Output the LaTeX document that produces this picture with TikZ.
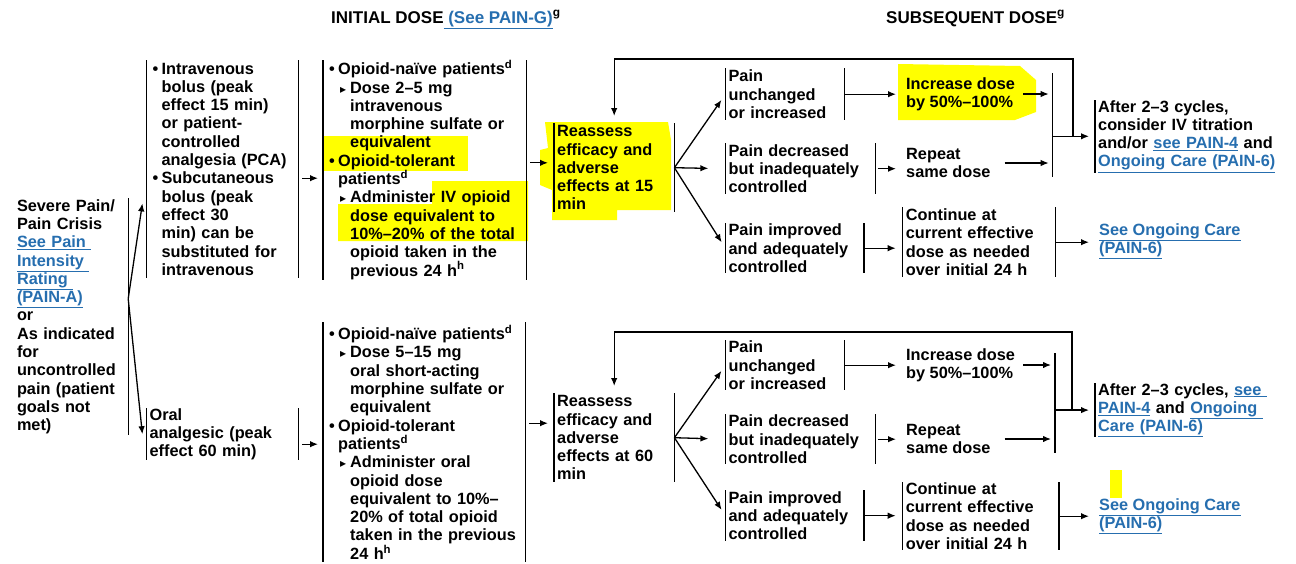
\documentclass[tikz,border=0pt]{standalone}
\usepackage{fontspec}
\setmainfont{Liberation Sans}
\newfontfamily\dejavu{DejaVu Sans}
\usetikzlibrary{arrows.meta}

\definecolor{linkblue}{RGB}{38,110,175}
\definecolor{marker}{RGB}{255,255,0}

\newcommand{\lnk}[1]{\textcolor{linkblue}{\underline{#1}}}
\newcommand{\bl}{\hspace*{3pt}\makebox[9pt][l]{•}}
\newcommand{\hi}{\hspace*{12pt}}
\newcommand{\tr}{\hspace*{14pt}\makebox[10pt][l]{\dejavu\fontsize{12}{12}\selectfont ▸}}
\newcommand{\si}{\hspace*{24pt}}

\tikzset{
    txt/.style={font=\bfseries\fontsize{16.3}{18.3}\selectfont, inner ysep=0pt, inner xsep=3pt},
    box/.style={txt, anchor=north west, align=left},
    bar/.style={line width=1.3pt},
    arr/.style={-{Latex[length=8pt,width=6.5pt]}, line width=1.3pt}
}

\begin{document}
\begin{tikzpicture}[x=1pt, y=-1pt]
            \useasboundingbox (0,0) rectangle (1296,563);
            % highlighting
            \begin{scope}
                \fill[marker] (323,136) rectangle (468,171);
                \fill[marker] (432,181) -- (528,181) -- (528,241) -- (338,241) -- (338,204) -- (432,204) -- cycle;
                \fill[marker] (545,122) -- (668,122) -- (671,140) -- (671,210) -- (617,210) -- (617,220) -- (552,220) -- (552,190) -- (540,185) -- (540,150) -- (548,148) -- cycle;
                \fill[marker] (898,64) -- (1020,66) -- (1036,80) -- (1036,112) -- (1015,120) -- (898,120) -- cycle;
                \fill[marker] (1110,470) rectangle (1122,498);
            \end{scope}
            % headings
            \node[txt, anchor=base west, font=\bfseries\fontsize{17}{20}\selectfont] (hdinit) at (328,23) {INITIAL DOSE\lnk{ (See PAIN-G)}\textsuperscript{g}};
            \node[txt, anchor=base west, font=\bfseries\fontsize{17}{20}\selectfont] (hdsub) at (883,23) {SUBSEQUENT DOSE\textsuperscript{g}};
            % left column
            \node[box, text width=108pt, minimum height=237pt] (severe) at (13.8,198) {Severe Pain/\\Pain Crisis\\\lnk{See Pain }\\\lnk{Intensity }\\\lnk{Rating }\\\lnk{(PAIN-A)}\\or\\As indicated\\for\\uncontrolled\\pain (patient\\goals not\\met)};
            \node[box, text width=145.6pt, minimum height=218pt] (iv) at (146.4,60) {\bl Intravenous\\\hi bolus (peak\\\hi effect 15 min)\\\hi or patient-\\\hi controlled\\\hi analgesia (PCA)\\\bl Subcutaneous\\\hi bolus (peak\\\hi effect 30\\\hi min) can be\\\hi substituted for\\\hi intravenous};
            \node[box, text width=145.6pt, minimum height=52pt] (oral) at (146.4,408) {Oral\\analgesic (peak\\effect 60 min)};
            \node[box, text width=197pt, minimum height=218pt] (ivdose) at (323,60) {\bl Opioid-naïve patients\textsuperscript{d}\\\tr Dose 2–5 mg\\\si intravenous\\\si morphine sulfate or\\\si equivalent\\\bl Opioid-tolerant\\\hi patients\textsuperscript{d}\\\tr Administer IV opioid\\\si dose equivalent to\\\si 10\%–20\% of the total\\\si opioid taken in the\\\si previous 24 h\textsuperscript{h}};
            \node[box, text width=196pt, minimum height=240pt] (ovdose) at (323,322) {\bl Opioid-naïve patients\textsuperscript{d}\\\tr Dose 5–15 mg\\\si oral short-acting\\\si morphine sulfate or\\\si equivalent\\\bl Opioid-tolerant\\\hi patients\textsuperscript{d}\\\tr Administer oral\\\si opioid dose\\\si equivalent to 10\%–\\\si 20\% of total opioid\\\si taken in the previous\\\si 24 h\textsuperscript{h}};
            % subsequent dose, upper
            \node[box, text width=114pt, minimum height=89pt] (reaA) at (554,123) {Reassess\\efficacy and\\adverse\\effects at 15\\min};
            \node[box, text width=112.6pt, minimum height=52pt] (upA) at (725.4,68) {Pain\\unchanged\\or increased};
            \node[box, text width=144pt, minimum height=51pt] (decA) at (725.4,143) {Pain decreased\\but inadequately\\controlled};
            \node[box, text width=132.3pt, minimum height=50pt] (impA) at (725.4,223) {Pain improved\\and adequately\\controlled};
            \node[txt, anchor=west, align=left] (incA) at (903,94) {Increase dose\\by 50\%–100\%};
            \node[txt, anchor=west, align=left] (repA) at (903,163) {Repeat\\same dose};
            \node[box, text width=146.3pt, minimum height=70pt] (conA) at (902.7,207) {Continue at\\current effective\\dose as needed\\over initial 24 h};
            \node[box, text width=190pt, minimum height=72pt] (aftA) at (1095,100) {After 2–3 cycles,\\consider IV titration\\and/or \lnk{see PAIN-4} and\\\lnk{Ongoing Care (PAIN-6)}};
            \node[txt, anchor=west, align=left] (ongA) at (1096,241) {\lnk{See Ongoing Care}\\\lnk{(PAIN-6)}};
            % subsequent dose, lower
            \node[box, text width=114pt, minimum height=89pt] (reaB) at (554,393) {Reassess\\efficacy and\\adverse\\effects at 60\\min};
            \node[box, text width=112.6pt, minimum height=50pt] (upB) at (725.4,340) {Pain\\unchanged\\or increased};
            \node[box, text width=144pt, minimum height=50pt] (decB) at (725.4,414) {Pain decreased\\but inadequately\\controlled};
            \node[box, text width=132.3pt, minimum height=51pt] (impB) at (725.4,490) {Pain improved\\and adequately\\controlled};
            \node[txt, anchor=west, align=left] (incB) at (903,365) {Increase dose\\by 50\%–100\%};
            \node[txt, anchor=west, align=left] (repB) at (903,439) {Repeat\\same dose};
            \node[box, text width=149.9pt, minimum height=68pt] (conB) at (902.7,482) {Continue at\\current effective\\dose as needed\\over initial 24 h};
            \node[box, text width=190pt, minimum height=50pt] (aftB) at (1095,383) {After 2–3 cycles, \lnk{see }\\\lnk{PAIN-4} and \lnk{Ongoing }\\\lnk{Care (PAIN-6)}};
            \node[txt, anchor=west, align=left] (ongB) at (1096,516) {\lnk{See Ongoing Care}\\\lnk{(PAIN-6)}};
            % helper points
            \coordinate (fork) at ([yshift=18pt]severe.east);
            \coordinate (mAt) at (1052.7,73);
            \coordinate (mAb) at (1052.7,177);
            \coordinate (mBt) at (1055,353);
            \coordinate (mBb) at (1055,453);
            \coordinate (lpA) at (1073,59);
            \coordinate (lpB) at (1072,332);
            % bars
            \foreach \n in {iv,oral,ivdose,ovdose,reaA,upA,decA,impA,conA,reaB,upB,decB,impB,conB}
                \draw[bar] (\n.north west) -- (\n.south west) (\n.north east) -- (\n.south east);
            \foreach \n in {aftA,aftB}
                \draw[bar] (\n.north west) -- (\n.south west);
            \draw[bar] (severe.north east) -- (severe.south east);
            \draw[bar] (mAt) -- (mAb) (mBt) -- (mBb);
            % arrows, initial dose
            \draw[arr] (fork) -- ([xshift=-4pt,yshift=75pt]iv.south west);
            \draw[arr] (fork) -- ([xshift=-4pt]oral.west);
            \draw[arr, shorten <=4pt, shorten >=5pt] ([yshift=-9pt]iv.east) -- ([yshift=-9pt]iv.east -| ivdose.west);
            \draw[arr, shorten <=4pt, shorten >=5pt] ([yshift=-10pt]oral.east) -- ([yshift=-10pt]oral.east -| ovdose.west);
            \draw[arr, shorten <=4pt, shorten >=6pt] ([yshift=7pt]ivdose.east) -- ([yshift=7pt]ivdose.east -| reaA.west);
            \draw[arr, shorten <=4pt, shorten >=6pt] ([yshift=19pt]ovdose.east) -- ([yshift=19pt]ovdose.east -| reaB.west);
            % arrows, subsequent dose
            \foreach \r/\u/\d/\i/\c/\p/\o/\m/\a/\l in {reaA/upA/decA/impA/conA/repA/ongA/mAt/aftA/lpA, reaB/upB/decB/impB/conB/repB/ongB/mBt/aftB/lpB} {
                \draw[arr, shorten >=7pt] (\r.east) -- (\u.west);
                \draw[arr, shorten >=17pt] (\r.east) -- (\d.west);
                \draw[arr, shorten >=7pt] (\r.east) -- (\i.west);
                \draw[arr, shorten <=2pt, shorten >=7pt] (\d.east) -- (\d.east -| \p.west);
                \draw[arr, shorten >=7pt] (\i.east) -- (\i.east -| \c.west);
                \draw[arr, shorten >=7pt] (\c.east) -- (\c.east -| \o.west);
                \draw[arr, shorten <=11pt, shorten >=4pt] (\p.east) -- (\p.east -| \m);
                \draw[arr, shorten >=6pt] (\a.west -| \m) -- (\a.west);
                \draw[arr, shorten >=7pt] (\l |- \a.west) -- (\l) -| (\r.north);
            }
            \draw[arr, shorten >=7pt] (upA.east) -- (upA.east -| incA.west);
            \draw[arr, shorten >=7pt] (upB.east) -- (upB.east -| incB.west);
            \draw[arr, shorten <=5pt, shorten >=4pt] (incA.east) -- (incA.east -| mAt);
            \draw[arr, shorten <=5pt, shorten >=4pt] (incB.east) -- (incB.east -| mBt);
\end{tikzpicture}
\end{document}
